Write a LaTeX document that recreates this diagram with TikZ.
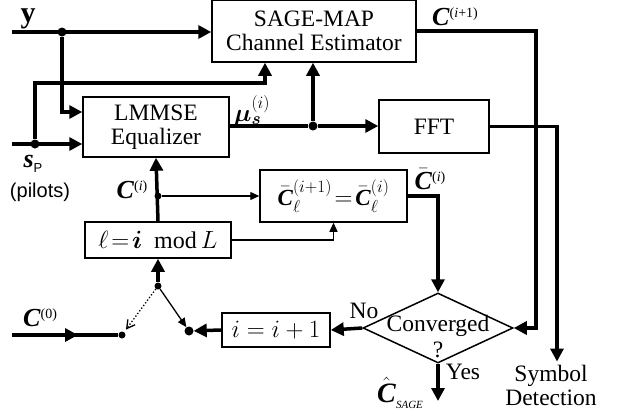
\documentclass[tikz,border=0pt]{standalone}
\usepackage{fontspec}
\usepackage{amsmath}
\setmainfont{Liberation Serif}
\setsansfont{Liberation Sans}
\usetikzlibrary{shapes.geometric,arrows.meta,calc}
\newcommand\myC{\textbf{\textit{C}}}
\begin{document}
\begin{tikzpicture}[x=1pt,y=-1pt,
  txt/.style={font=\fontsize{23.5}{24}\selectfont},
  box/.style={draw,line width=1.5pt,fill=white,align=center,inner sep=0pt,txt},
  thk/.style={line width=3.5pt},
  thn/.style={line width=1.3pt},
  tarr/.style={thk,-{Triangle[length=13pt,width=13pt]}},
  narr/.style={thn,-{Triangle[length=9pt,width=8pt]}},
  dot/.style={circle,fill=black,inner sep=0pt,minimum size=9pt},
  sdot/.style={circle,fill=black,inner sep=0pt,minimum size=7pt},
  lab/.style={inner sep=0pt}]
\useasboundingbox (0,0) rectangle (622,413);
% boxes
\node[box,minimum width=204pt,minimum height=62pt] (sage) at (314,31) {SAGE-MAP\\Channel Estimator};
\node[box,minimum width=146pt,minimum height=60pt] (lmmse) at (156,127) {LMMSE\\Equalizer};
\node[box,minimum width=110pt,minimum height=53pt] (fft) at (434,126.5) {FFT};
\node[box,minimum width=147pt,minimum height=52pt,font=\fontsize{23}{24}\selectfont] (cbar) at (333.5,196) {$\bar{\hbox{\myC}}{}_{\ell}^{(i+1)}\!=\!\bar{\hbox{\myC}}{}_{\ell}^{(i)}$};
\node[box,minimum width=146pt,minimum height=36pt,font=\fontsize{24}{26}\selectfont] (mod) at (158,240) {$\ell\!=\!\boldsymbol{i}\ \ \mathrm{mod}\,L$};
\node[box,minimum width=108pt,minimum height=34pt,font=\fontsize{24}{26}\selectfont] (inc) at (276,330) {$i=i+1$};
\node[diamond,draw,line width=1.5pt,minimum width=150pt,minimum height=70pt,inner sep=0pt] (conv) at (438,328) {};
\node[txt,lab] (convt) at (438,326) {Converged};
\node[txt,lab] (convq) at (438,350) {?};
% dots
\node[dot] (d1) at (62,32) {};
\node[dot] (d2) at (35,144) {};
\node[dot] (d3) at (313,126) {};
\node[sdot] (d7) at (158,196) {};
\node[sdot] (d5) at (158,286) {};
\node[dot] (d4) at (189,331) {};
\node[sdot] (d6) at (122,335) {};
\coordinate (yin) at (12,32);
\coordinate (spin) at (12,144);
\coordinate (c0in) at (12,335);
\coordinate (out) at (438,401);
% connectors
\draw[tarr] (yin) -- (yin -| sage.west);
\draw[tarr] (d1) |- ([yshift=15pt]lmmse.west);
\draw[tarr] (spin) -- (spin -| lmmse.west);
\draw[tarr] (d2) -- (35,83) -| ([xshift=-49pt]sage.south);
\draw[thk] (lmmse.east |- d3) -- (d3);
\draw[tarr] (d3) -- (d3 -| fft.west);
\draw[tarr] (d3) -- (d3 |- sage.south);
\draw[tarr] (sage.east) -| ([xshift=22pt]conv.east) -- (conv.east);
\node[txt,align=center,inner sep=0pt] (sd) at (551,385) {Symbol\\Detection};
\draw[tarr] (fft.east) -| ([yshift=3pt]sd.north -| 557,0);
\draw[tarr] (cbar.east) -| (conv.north);
\draw[tarr] (conv.south) -- (out);
\draw[tarr] (conv.west) -- (inc.east);
\draw[tarr] (inc.west) -- (d4);
\draw[tarr] (d5) -- (mod.south);
\draw[narr] (d5) -- (d4);
\draw[thn,dotted,-{Straight Barb[length=8pt,width=9pt]},shorten >=3pt] (d5) -- (d6);
\draw[tarr] (c0in) -- ($(c0in)!0.6!(d6)$);
\draw[thk] (c0in) -- (d6);
\draw[tarr] (mod.north) -- (lmmse.south);
\draw[narr] (d7) -- (cbar.west |- d7);
\draw[narr] (mod.east) -| (cbar.south);
% labels
\node[lab,font=\fontsize{30}{30}\selectfont\bfseries] (ylab) at (28,19) {y};
\node[lab,font=\fontsize{26}{26}\selectfont] (splab) at (33,164) {\textbf{\textit{s}}\raisebox{-5pt}{\sffamily\fontsize{13}{13}\selectfont P}};
\node[lab,font=\sffamily\fontsize{20}{22}\selectfont] (pil) at (40,192) {(pilots)};
\node[lab,font=\fontsize{26}{26}\selectfont] (cilab) at (132,190) {\myC\raisebox{8pt}{\fontsize{14}{14}\selectfont(\textit{i})}};
\node[lab,font=\fontsize{24}{24}\selectfont] (mulab) at (252,111) {$\boldsymbol{\mu}_{\boldsymbol{s}}^{(i)}$};
\node[lab,font=\fontsize{26}{26}\selectfont] (cip) at (455,17) {\myC\raisebox{8pt}{\fontsize{14}{14}\selectfont(\textit{i}+1)}};
\node[lab,font=\fontsize{26}{26}\selectfont] (cbl) at (430,179) {$\bar{\hbox{\myC}}$\raisebox{8pt}{\fontsize{14}{14}\selectfont(\textit{i})}};
\node[txt,lab] (nolab) at (364,311) {No};
\node[txt,lab] (yeslab) at (463,372) {Yes};
\node[lab,font=\fontsize{28}{28}\selectfont] (chat) at (400,393) {$\hat{\hbox{\myC}}$\raisebox{-6pt}{\fontsize{11}{11}\selectfont\textit{SAGE}}};
\node[lab,font=\fontsize{26}{26}\selectfont] (c0lab) at (40,318) {\myC\raisebox{8pt}{\fontsize{14}{14}\selectfont(0)}};
\end{tikzpicture}
\end{document}
